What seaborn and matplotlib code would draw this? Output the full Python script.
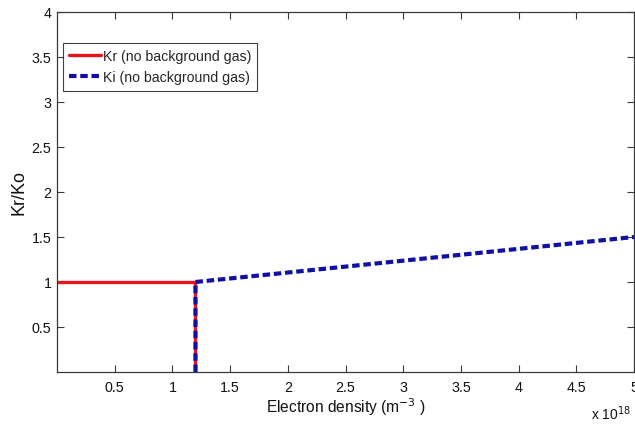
import matplotlib
matplotlib.use("Agg")
import matplotlib.pyplot as plt
import seaborn as sns
import pandas as pd

# Normalised wavenumbers vs electron density (density in units of 1e18 m^-3)
kr_density = [0.0, 1.2, 1.2]
kr_ratio = [1.0, 1.0, 0.0]
ki_density = [1.2, 1.2, 5.0]
ki_ratio = [0.0, 1.0, 1.5]

x_ticks = [0.5, 1, 1.5, 2, 2.5, 3, 3.5, 4, 4.5, 5]
y_ticks = [0.5, 1, 1.5, 2, 2.5, 3, 3.5, 4]

sns.set_style("ticks")
plt.rcParams["font.family"] = ["Liberation Sans", "DejaVu Sans"]

fig = plt.figure(figsize=(6.35, 4.27), dpi=100)
ax = fig.add_axes([57 / 635, 54 / 427, 577 / 635, 360 / 427])

kr_df = pd.DataFrame({"x": kr_density, "y": kr_ratio})
ki_df = pd.DataFrame({"x": ki_density, "y": ki_ratio})

sns.lineplot(data=kr_df, x="x", y="y", sort=False, estimator=None, ax=ax,
             color="#e8141c", linewidth=2.4, label="Kr (no background gas)")
sns.lineplot(data=ki_df, x="x", y="y", sort=False, estimator=None, ax=ax,
             color="#1010a6", linewidth=3.0, linestyle=(0, (1.8, 0.9)),
             label="Ki (no background gas)")

ax.set_xlim(0, 5)
ax.set_ylim(0, 4)
ax.set_xticks(x_ticks)
ax.set_xticklabels([f"{v:g}" for v in x_ticks])
ax.set_yticks(y_ticks)
ax.set_yticklabels([f"{v:g}" for v in y_ticks])

for side in ["top", "right", "left", "bottom"]:
    ax.spines[side].set_visible(True)
    ax.spines[side].set_color("#3a3a3a")
    ax.spines[side].set_linewidth(0.9)
ax.tick_params(direction="in", length=5, width=0.8, colors="#3a3a3a",
               labelcolor="#111111", labelsize=10.3, top=True, right=True)
ax.tick_params(axis="x", pad=6)
ax.tick_params(axis="y", pad=4)

ax.set_xlabel("Electron density (m$^{-3}$ )", fontsize=11.2,
              color="#111111", labelpad=1)
ax.set_ylabel("Kr/Ko", fontsize=13.0, color="#111111", labelpad=3)
ax.text(0.925, -0.112, r"x 10$^{18}$", transform=ax.transAxes,
        fontsize=10.0, color="#111111", ha="left", va="center")

leg = ax.legend(loc="upper left", bbox_to_anchor=(6 / 577, 1 - 31 / 360),
                borderaxespad=0, fontsize=10.2, frameon=True,
                fancybox=False, handlelength=2.2, handletextpad=0.15,
                borderpad=0.45, labelspacing=0.5)
leg.get_frame().set_edgecolor("#111111")
leg.get_frame().set_linewidth(0.8)

fig.savefig("out.png", dpi=100, facecolor="white")
